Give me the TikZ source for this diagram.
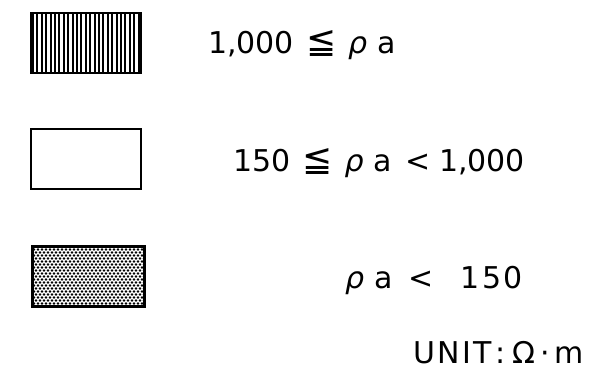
\documentclass[tikz,border=0pt]{standalone}
\usepackage{fontspec}
\setmainfont{DejaVu Sans}
\newcommand{\lblfont}{\fontsize{30}{32}\selectfont}
\newcommand{\bigle}{{\fontsize{36}{36}\selectfont ≦}}
\begin{document}
\begin{tikzpicture}[x=1pt,y=-1pt,
  box/.style={draw=black,line width=2pt,fill=white,minimum width=110pt,minimum height=60pt,anchor=north west,inner sep=0pt},
  lbl/.style={anchor=base west,inner sep=0pt,font=\lblfont}]
\useasboundingbox (0,0) rectangle (603,375);
% box 1 with vertical hatching
\node[box] (b1) at (30,12) {};
\foreach \i in {0,...,24} {
  \draw[line width=2.1pt] ([xshift=3pt+\i*4.4pt]b1.north west) -- ([xshift=3pt+\i*4.4pt]b1.south west);
}
\node[box,fill=none,line width=2.4pt] (b1f) at (30,12) {};
% box 2 empty
\node[box] (b2) at (30,128) {};
% box 3 dotted
\node[box,minimum width=112pt] (b3) at (31,245) {};
\begin{scope}
\clip (b3.north west) rectangle (b3.south east);
\foreach \j in {0,...,20} {
  \pgfmathsetmacro{\off}{mod(\j,2)*2}
  \foreach \i in {0,...,28} {
    \fill ([xshift=1pt+\i*4pt+\off pt,yshift=-1.5pt-\j*3pt]b3.north west) circle (1.3pt);
  }
}
\end{scope}
\node[box,minimum width=112pt,fill=none,line width=2.6pt] (b3f) at (31,245) {};
% labels
\node[lbl] (t1) at (208,53) {1,000\hspace{12pt}\bigle\hspace{12pt}\textit{ρ}\hspace{10pt}a};
\node[lbl] (t2) at (233,171) {150\hspace{12pt}\bigle\hspace{12pt}\textit{ρ}\hspace{10pt}a\hspace{13pt}<\hspace{9pt}1,000};
\node[lbl] (t3) at (345,288) {\textit{ρ}\hspace{10pt}a\hspace{16pt}<\hspace{27pt}{\addfontfeature{LetterSpace=8}150}};
\node[lbl] (t4) at (413,363) {{\addfontfeature{LetterSpace=8}UNIT}\hspace{4pt}:\hspace{6pt}Ω\hspace{5pt}·\hspace{5pt}m};
\end{tikzpicture}
\end{document}
